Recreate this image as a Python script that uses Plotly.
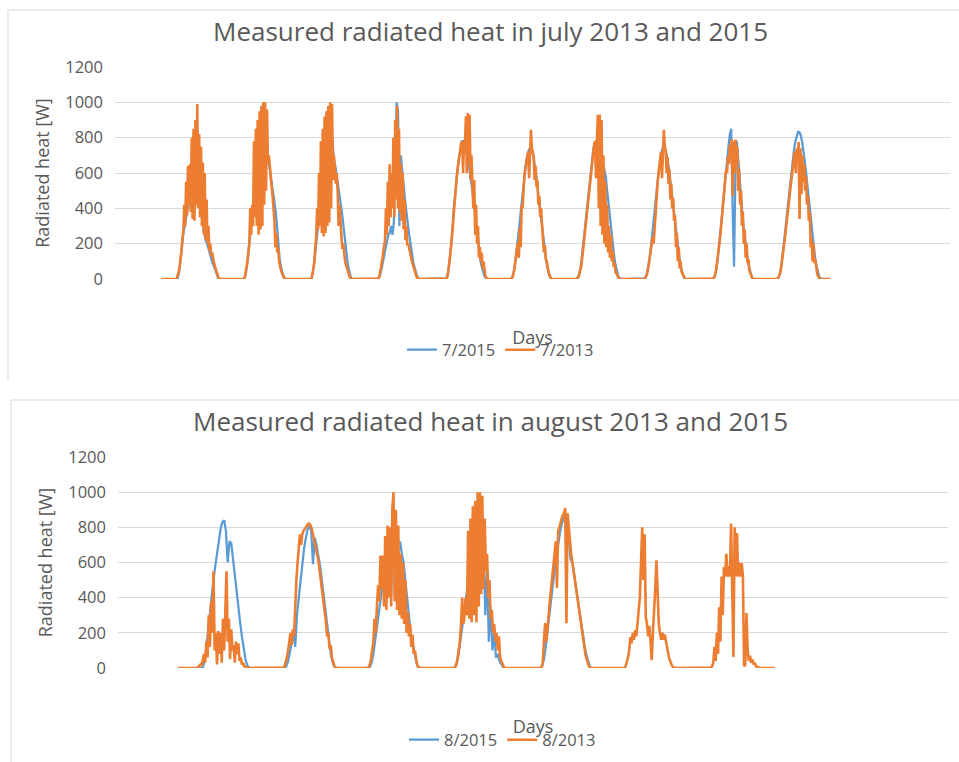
import plotly.graph_objects as go

# ---------------- data ----------------
# Each inner list = one day's daylight readings in W.
# 2015 series: 30-min samples from 05:00 to 21:30 (34 values)
# 2013 series: 20-min samples from 05:00 to 21:40 (51 values)
# Night readings are zero.

JUL_2015 = [
    [0,0,5,40,110,190,260,300,360,400,420,450,480,500,520,560,600,560,450,380,300,250,220,200,170,140,120,90,70,45,20,5,0,0],
    [0,0,5,40,100,170,260,330,420,500,580,650,720,780,830,870,880,800,720,670,620,570,510,450,400,320,200,120,70,35,12,0,0,0],
    [0,0,5,40,100,170,250,330,420,500,580,650,720,780,830,870,880,780,680,640,590,540,480,420,360,300,230,150,80,35,12,0,0,0],
    [0,0,5,20,50,90,130,170,210,250,260,300,250,320,700,1000,950,300,700,600,520,450,380,300,250,200,140,90,60,30,10,0,0,0],
    [0,0,3,10,40,100,180,280,400,490,570,640,700,750,780,780,760,730,690,640,580,520,450,380,300,230,160,110,70,40,15,3,0,0],
    [0,0,10,40,90,150,220,300,380,460,540,610,670,710,735,740,730,700,650,590,520,450,380,310,240,180,120,70,35,12,0,0,0,0],
    [0,10,30,70,130,200,280,360,440,520,600,670,730,770,780,770,750,720,690,650,620,580,500,420,340,260,190,130,80,40,15,3,0,0],
    [0,3,15,45,90,150,220,300,380,460,540,610,670,720,745,750,730,690,640,580,510,440,370,300,230,170,110,65,30,10,0,0,0,0],
    [0,0,0,10,40,90,160,240,330,420,510,600,680,750,820,850,400,70,600,780,680,560,460,370,280,210,150,100,60,25,5,0,0,0],
    [0,10,35,80,140,210,290,370,450,530,600,670,730,780,815,833,830,810,770,720,650,580,500,420,340,260,190,130,80,40,15,3,0,0],
]

JUL_2013 = [
    [0,0,5,20,40,70,110,160,230,270,420,300,550,360,640,420,650,380,800,340,850,330,900,420,990,400,820,350,750,300,660,250,600,220,450,200,300,160,200,130,150,100,90,70,50,30,15,5,0,0,0],
    [0,0,0,5,30,60,100,150,200,400,250,420,300,780,350,850,300,900,250,950,280,980,300,1000,420,1000,500,960,650,700,620,580,520,470,400,330,180,260,150,180,100,70,50,35,20,10,3,0,0,0,0],
    [0,0,0,5,25,60,100,160,250,400,280,600,300,780,260,850,240,920,260,950,300,980,320,1000,400,990,560,700,600,540,600,500,300,420,330,250,170,200,120,100,80,60,40,25,12,5,0,0,0,0,0],
    [0,0,0,3,15,40,70,110,150,180,220,400,250,550,300,650,350,600,400,800,350,900,450,980,400,850,380,650,330,600,280,450,220,300,190,200,170,150,120,100,80,60,40,25,12,5,0,0,0,0,0],
    [0,0,0,3,5,10,40,80,120,180,240,310,400,460,520,570,620,660,700,740,770,780,600,780,760,920,600,940,650,930,560,700,550,400,560,250,420,200,300,120,180,100,150,60,100,30,15,5,0,0,0],
    [0,0,0,8,25,50,90,130,170,210,120,290,180,420,400,540,590,630,670,700,720,570,740,845,740,720,690,560,640,520,560,420,470,350,400,300,240,150,190,110,100,60,35,20,8,0,0,0,0,0,0],
    [0,5,10,25,45,70,110,160,210,270,330,380,440,490,550,600,650,690,730,760,780,570,780,930,400,930,300,900,250,700,200,550,180,420,150,300,120,250,100,160,70,90,40,30,15,5,0,0,0,0,0],
    [0,0,5,15,30,55,90,130,170,200,240,200,300,380,430,520,590,640,690,720,570,745,845,750,730,600,690,540,620,450,540,400,460,330,360,180,260,100,180,60,100,40,30,15,5,0,0,0,0,0,0],
    [0,0,0,3,8,20,45,80,120,160,210,260,320,380,440,500,560,620,600,700,650,760,700,790,470,780,600,790,650,750,500,620,420,500,300,380,200,280,120,200,90,110,50,30,15,5,0,0,0,0,0],
    [0,5,15,30,55,90,130,170,220,270,320,370,420,470,520,560,610,650,690,720,600,740,650,775,340,740,480,700,550,650,500,580,420,470,330,380,180,230,100,200,90,110,50,30,15,5,0,0,0,0,0],
]

AUG_2015 = [
    [0,0,0,0,5,40,120,220,330,420,500,580,660,730,790,830,840,780,600,720,710,620,520,420,340,260,180,110,50,15,3,0,0,0],
    [0,0,0,10,40,90,150,200,120,300,400,500,600,680,740,790,810,780,590,740,700,650,580,500,410,320,230,150,80,35,10,0,0,0],
    [0,0,5,30,80,150,220,300,380,460,540,600,500,700,400,800,600,750,700,720,650,600,500,400,300,200,150,90,40,10,0,0,0,0],
    [0,0,5,30,80,150,230,310,390,470,550,620,680,740,780,800,600,750,700,300,550,150,350,100,200,60,80,40,20,5,0,0,0,0],
    [0,0,0,10,50,120,200,290,380,470,560,640,710,770,820,850,870,860,760,620,600,530,460,390,320,250,180,120,70,30,5,0,0,0],
]

AUG_2013 = [
    [0,0,5,10,20,15,40,80,30,150,60,300,120,380,200,550,100,200,20,210,80,200,30,280,100,400,550,150,280,50,220,100,130,30,150,80,140,40,60,20,30,10,5,0,0,0,0,0,0,0,0],
    [0,0,3,10,30,60,100,150,200,130,220,180,400,500,600,680,760,700,760,780,790,800,810,820,820,810,790,760,730,700,670,630,590,540,490,440,380,320,260,180,200,110,130,60,30,10,2,0,0,0,0],
    [0,0,5,20,50,90,150,280,200,350,470,380,640,450,640,350,750,330,810,400,800,350,900,1000,380,900,330,810,300,650,280,600,250,500,200,320,180,250,120,190,80,100,40,15,5,0,0,0,0,0,0],
    [0,0,0,5,20,50,100,150,250,400,250,300,400,300,780,280,850,260,920,300,950,260,1000,350,1000,420,980,450,850,550,650,400,500,280,330,200,250,150,200,100,180,60,40,20,8,0,0,0,0,0,0],
    [0,0,0,0,5,30,150,255,150,255,300,380,450,540,620,680,720,455,780,800,830,850,870,880,910,255,880,780,720,650,600,550,500,450,400,350,300,250,200,150,110,80,50,25,10,0,0,0,0,0,0],
    [0,0,0,10,30,60,100,176,140,200,160,215,180,250,300,403,600,800,500,760,290,250,180,240,150,45,200,300,450,613,369,250,200,160,200,160,190,150,100,80,50,30,15,5,0,0,0,0,0,0,0],
    [0,0,0,3,10,30,120,40,200,80,345,150,520,300,575,520,650,520,580,520,822,520,62,800,520,767,520,600,520,596,520,10,20,312,100,40,70,30,50,20,30,10,5,0,0,0,0,0,0,0,0],
]

TITLES = ["Measured radiated heat in july 2013 and 2015",
          "Measured radiated heat in august 2013 and 2015"]
NAMES_TOP = ["7/2015", "7/2013"]
NAMES_BOTTOM = ["8/2015", "8/2013"]
Y_TITLE = "Radiated heat [W]"
X_TITLE = "Days"
Y_TICKS = [0, 200, 400, 600, 800, 1000, 1200]

# ---------------- helpers ----------------
W, H = 959, 762
FONT = "Open Sans"
TXT = "#595959"
GRID = "#d9d9d9"
BLUE = "#5B9BD5"
ORANGE = "#ED7D31"


def fx(p):
    return p / W


def fy(p):
    return 1 - p / H


def expand(days, per_day, start_hour):
    xs, ys = [], []
    s0 = round(start_hour * per_day / 24)
    for d, vals in enumerate(days):
        full = [0] * per_day
        for k, v in enumerate(vals):
            if s0 + k < per_day:
                full[s0 + k] = v
        for i, v in enumerate(full):
            xs.append(d + i / per_day)
            ys.append(v)
    xs.append(len(days))
    ys.append(0)
    return xs, ys


fig = go.Figure()

x, y = expand(JUL_2015, 48, 5)
fig.add_trace(go.Scatter(x=x, y=y, mode="lines", name=NAMES_TOP[0],
                         line=dict(color=BLUE, width=2.25), xaxis="x", yaxis="y",
                         legend="legend", hoverinfo="skip"))
x, y = expand(JUL_2013, 72, 5)
fig.add_trace(go.Scatter(x=x, y=y, mode="lines", name=NAMES_TOP[1],
                         line=dict(color=ORANGE, width=2.6), xaxis="x", yaxis="y",
                         legend="legend", hoverinfo="skip"))
x, y = expand(AUG_2015, 48, 5)
fig.add_trace(go.Scatter(x=x, y=y, mode="lines", name=NAMES_BOTTOM[0],
                         line=dict(color=BLUE, width=2.25), xaxis="x2", yaxis="y2",
                         legend="legend2", hoverinfo="skip"))
x, y = expand(AUG_2013, 72, 5)
fig.add_trace(go.Scatter(x=x, y=y, mode="lines", name=NAMES_BOTTOM[1],
                         line=dict(color=ORANGE, width=2.6), xaxis="x2", yaxis="y2",
                         legend="legend2", hoverinfo="skip"))

common_y = dict(range=[0, 1200], tickvals=Y_TICKS, showgrid=True, gridcolor=GRID,
                gridwidth=1.3, zeroline=False, showline=False, ticks="",
                automargin=False,
                tickfont=dict(family=FONT, size=16.5, color=TXT),
                ticklabelstandoff=11,
                title=dict(text=Y_TITLE, font=dict(family=FONT, size=18, color=TXT),
                           standoff=10))
common_x = dict(showgrid=False, zeroline=False, showline=False, showticklabels=False,
                ticks="", automargin=False,
                title=dict(text=X_TITLE, font=dict(family=FONT, size=18, color=TXT),
                           standoff=52))

leg = dict(orientation="h", xanchor="left", yanchor="middle",
           font=dict(family=FONT, size=16.5, color=TXT),
           bgcolor="rgba(0,0,0,0)", borderwidth=0, itemwidth=30)

fig.update_layout(
    width=W, height=H, margin=dict(l=0, r=0, t=0, b=0, pad=0, autoexpand=False),
    paper_bgcolor="white", plot_bgcolor="white",
    font=dict(family=FONT, color=TXT),
    xaxis=dict(domain=[fx(115), fx(950)], range=[-0.688, 11.79], anchor="y", **common_x),
    yaxis=dict(domain=[fy(279), fy(67)], anchor="x", **common_y),
    xaxis2=dict(domain=[fx(118), fx(948)], range=[-0.703, 9.03], anchor="y2", **common_x),
    yaxis2=dict(domain=[fy(668), fy(457)], anchor="x2", **common_y),
    legend=dict(x=fx(402), y=fy(350), **leg),
    legend2=dict(x=fx(404), y=fy(740), **leg),
    showlegend=True,
    annotations=[
        dict(text=TITLES[0], x=fx(490), y=fy(31), xref="paper", yref="paper",
             xanchor="center", yanchor="middle",
             showarrow=False, font=dict(family=FONT, size=26, color=TXT)),
        dict(text=TITLES[1], x=fx(490), y=fy(421), xref="paper", yref="paper",
             xanchor="center", yanchor="middle",
             showarrow=False, font=dict(family=FONT, size=26, color=TXT)),
    ],
    shapes=[
        dict(type="line", xref="paper", yref="paper", x0=fx(8), x1=fx(8), y0=fy(10), y1=fy(380),
             line=dict(color=GRID, width=1)),
        dict(type="line", xref="paper", yref="paper", x0=fx(8), x1=1, y0=fy(10), y1=fy(10),
             line=dict(color=GRID, width=1)),
        dict(type="line", xref="paper", yref="paper", x0=fx(11), x1=fx(11), y0=fy(400), y1=0,
             line=dict(color=GRID, width=1)),
        dict(type="line", xref="paper", yref="paper", x0=fx(11), x1=1, y0=fy(400), y1=fy(400),
             line=dict(color=GRID, width=1)),
    ],
)

fig.write_html(
    "out.html",
    config={"displayModeBar": False, "responsive": False},
    post_script=(
        "document.documentElement.style.overflow='hidden';"
        "document.body.style.margin='0';document.body.style.padding='0';"
        "var d=document.getElementById('{plot_id}');"
        "d.style.position='fixed';d.style.top='0px';d.style.left='0px';"
    ),
)
